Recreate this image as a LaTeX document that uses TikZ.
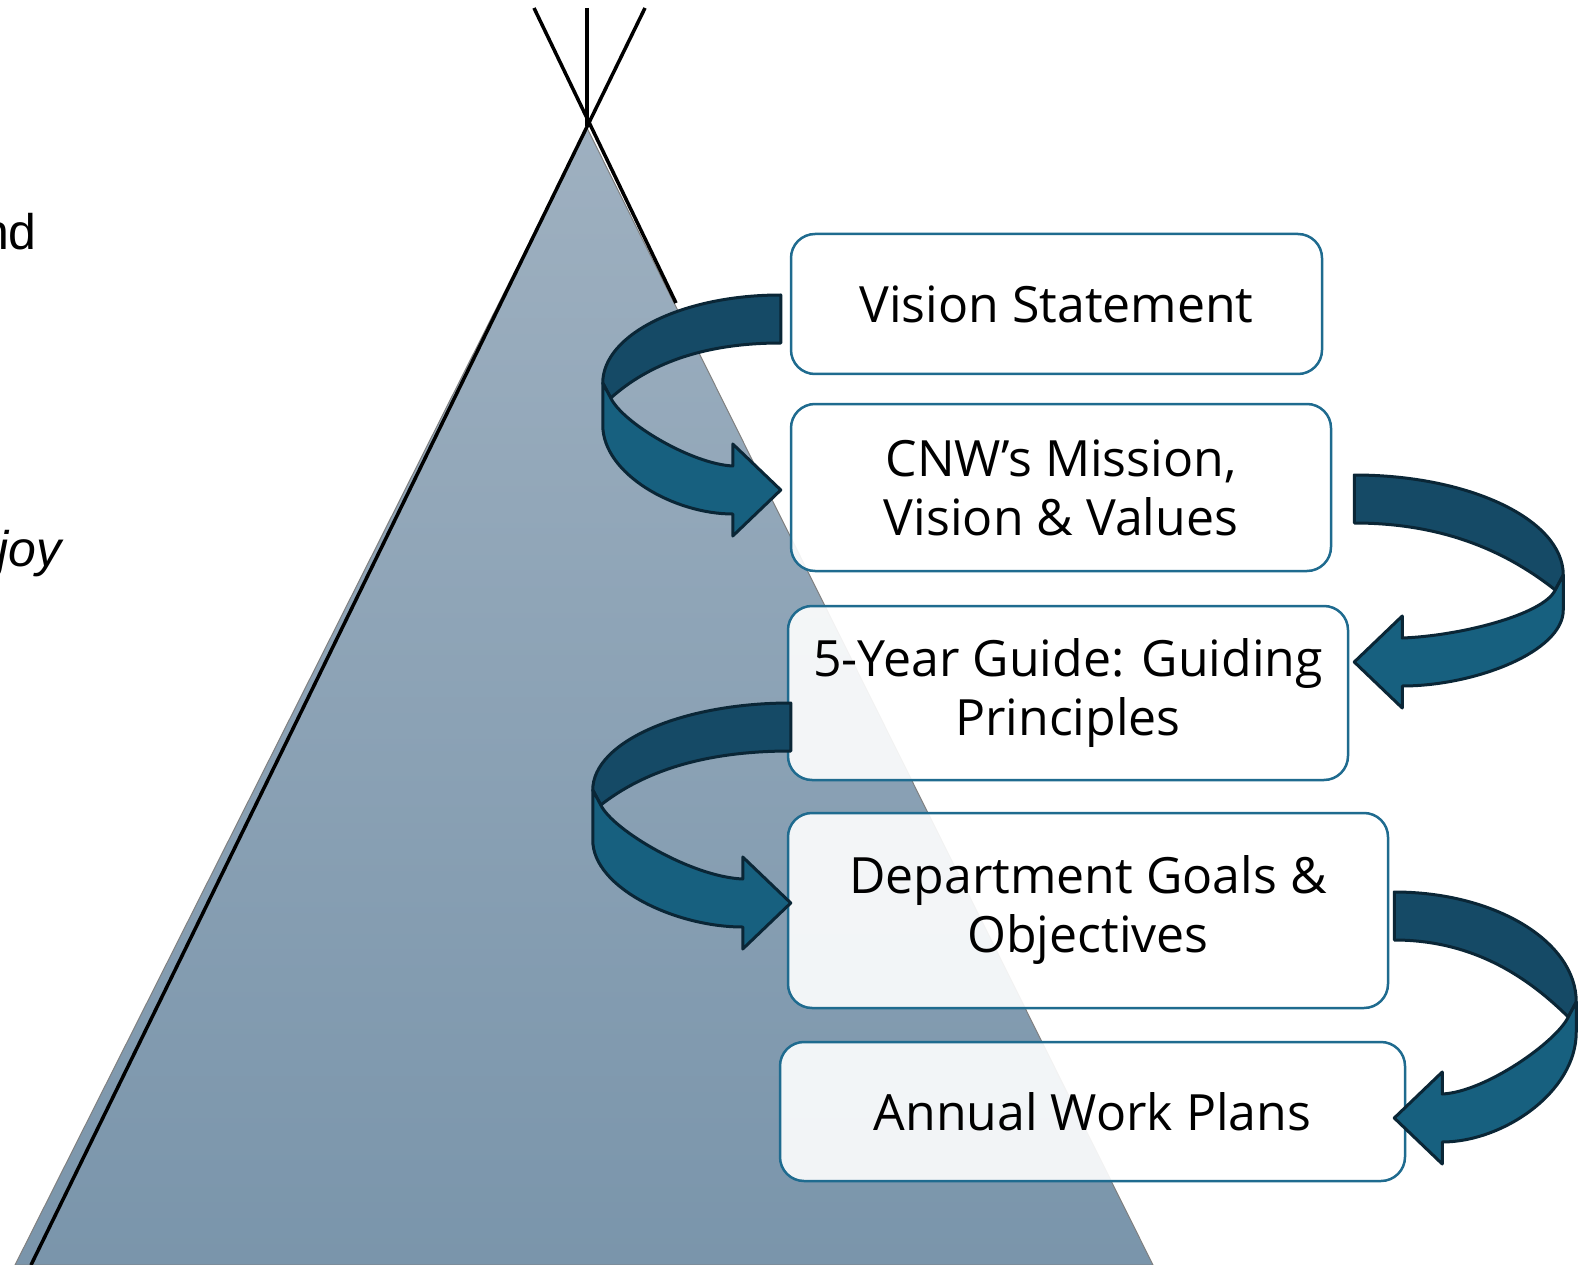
\documentclass[tikz,border=0pt]{standalone}
\usepackage{fontspec}
\setmainfont{Open Sans}
\newfontfamily\sidefont{Liberation Sans}
\usetikzlibrary{calc}

\definecolor{boxline}{RGB}{31,107,143}
\definecolor{bandback}{RGB}{21,74,102}
\definecolor{bandfront}{RGB}{23,96,127}
\definecolor{bandedge}{RGB}{10,38,54}
\definecolor{tipitop}{RGB}{158,176,192}
\definecolor{tipibottom}{RGB}{122,149,171}

\tikzset{
  box/.style={draw=boxline, line width=2.5pt, rounded corners=24pt, fill=white, fill opacity=0.9, text opacity=1,
    align=center, inner sep=0pt, font=\fontsize{50}{59}\selectfont},
  pole/.style={line width=3.5pt, black},
  bandstroke/.style={draw=bandedge, line width=3pt, line join=round},
  sidetext/.style={anchor=base east, inner sep=0pt, font=\sidefont\fontsize{50}{59}\selectfont}
}

\newcommand{\turnarrow}[6]{%
  \begin{scope}[shift={(#1)}, xscale=#2]
    \filldraw[bandstroke, fill=bandback] (0,0) .. controls ({0.552*#3},0) and (#3,{0.448*#4}) .. (#3,#4)
      -- ({#3-8},{#4+15}) .. controls ({0.75*#3},{0.8*#4}) and ({0.45*#3},48) .. (0,48) -- cycle;
    \filldraw[bandstroke, fill=bandfront] (#3,#4) -- (#3,{#4+#6})
      .. controls (#3,{#4+#6+0.55*(#5+24-#4-#6)}) and ({48+0.45*(#3-48)},{#5+24}) .. (48,{#5+24})
      -- (48,{#5+46}) -- (0,#5) -- (48,{#5-46}) -- (48,{#5-24})
      .. controls ({0.5*#3},{#5-26}) and ({#3-20},{#4+40}) .. ({#3-8},{#4+15}) -- cycle;
  \end{scope}}

\begin{document}
\begin{tikzpicture}[x=1pt, y=-1pt]
  \useasboundingbox (0,0) rectangle (1583,1265);

  \shadedraw[top color=tipitop, bottom color=tipibottom, draw=gray, line width=1pt] (587,128) -- (1153,1265) -- (15,1265) -- cycle;
  \draw[pole] (534,8) -- (676,303);
  \draw[pole] (645,8) -- (31,1265);
  \draw[pole] (587,8) -- (587,126);

  \node[sidetext] (nd) at (37,250) {nd};
  \node[sidetext, font=\sidefont\itshape\fontsize{50}{59}\selectfont] (joy) at (62,566) {joy};

  \node[box, minimum width=531pt, minimum height=140pt] (vision) at (1056.5,304) {Vision Statement};
  \node[box, minimum width=540pt, minimum height=167pt] (mission) at (1061,487.5) {CNW’s Mission,\\Vision \& Values};
  \node[box, minimum width=560pt, minimum height=174pt] (guide) at (1068,693) {5-Year Guide: Guiding\\Principles};
  \node[box, minimum width=600pt, minimum height=195pt] (dept) at (1088,910.5) {Department Goals \&\\Objectives};
  \node[box, minimum width=625pt, minimum height=139pt] (plans) at (1092.5,1111.5) {Annual Work Plans};

  \coordinate (t1) at ($(vision.west)+(-9,-9)$);
  \coordinate (t2) at ($(mission.east)+(22,-12.5)$);
  \coordinate (t3) at ($(guide.west)+(4,10)$);
  \coordinate (t4) at ($(dept.east)+(5,-18.5)$);

  \turnarrow{t1}{-1}{178}{88}{195}{42}
  \turnarrow{t2}{1}{209}{100}{187}{35}
  \turnarrow{t3}{-1}{198}{87}{200}{50}
  \turnarrow{t4}{1}{182}{110}{226}{30}
\end{tikzpicture}
\end{document}
